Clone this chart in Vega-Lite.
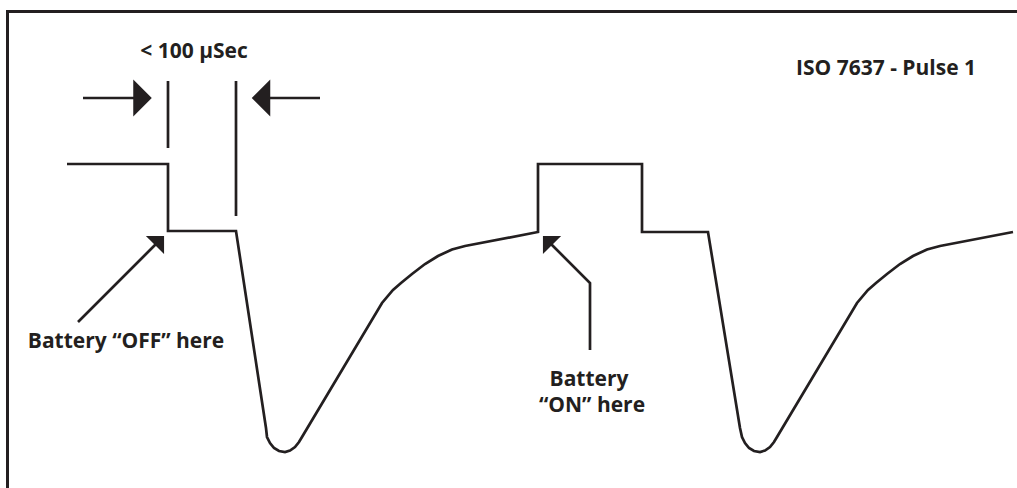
{
  "$schema": "https://vega.github.io/schema/vega-lite/v6.json",
  "width": 1017,
  "height": 488,
  "autosize": {"type": "none"},
  "padding": 0,
  "background": "white",
  "config": {"view": {"stroke": null}},
  "datasets": {
    "lines": [
      {"seg": "box", "i": 0, "x": 7.5, "y": 490},
      {"seg": "box", "i": 1, "x": 7.5, "y": 11.5},
      {"seg": "box", "i": 2, "x": 1020, "y": 11.5},
      {"seg": "wave", "i": 0, "x": 67, "y": 164},
      {"seg": "wave", "i": 1, "x": 168, "y": 164},
      {"seg": "wave", "i": 2, "x": 168, "y": 231},
      {"seg": "wave", "i": 3, "x": 236, "y": 231},
      {"seg": "wave", "i": 4, "x": 266, "y": 428},
      {"seg": "wave", "i": 5, "x": 267, "y": 437},
      {"seg": "wave", "i": 6, "x": 270, "y": 443},
      {"seg": "wave", "i": 7, "x": 274, "y": 448},
      {"seg": "wave", "i": 8, "x": 279, "y": 451},
      {"seg": "wave", "i": 9, "x": 285, "y": 452},
      {"seg": "wave", "i": 10, "x": 290, "y": 450.5},
      {"seg": "wave", "i": 11, "x": 295, "y": 447},
      {"seg": "wave", "i": 12, "x": 299, "y": 442},
      {"seg": "wave", "i": 13, "x": 302, "y": 437},
      {"seg": "wave", "i": 14, "x": 382, "y": 303},
      {"seg": "wave", "i": 15, "x": 393, "y": 290},
      {"seg": "wave", "i": 16, "x": 401, "y": 283},
      {"seg": "wave", "i": 17, "x": 412, "y": 274},
      {"seg": "wave", "i": 18, "x": 425, "y": 264},
      {"seg": "wave", "i": 19, "x": 438, "y": 256},
      {"seg": "wave", "i": 20, "x": 452, "y": 249.5},
      {"seg": "wave", "i": 21, "x": 465, "y": 246},
      {"seg": "wave", "i": 22, "x": 538, "y": 232},
      {"seg": "wave", "i": 23, "x": 538, "y": 164},
      {"seg": "wave", "i": 24, "x": 642, "y": 164},
      {"seg": "wave", "i": 25, "x": 642, "y": 232},
      {"seg": "wave", "i": 26, "x": 708, "y": 232},
      {"seg": "wave", "i": 27, "x": 740, "y": 428},
      {"seg": "wave", "i": 28, "x": 742, "y": 437},
      {"seg": "wave", "i": 29, "x": 745, "y": 443},
      {"seg": "wave", "i": 30, "x": 749, "y": 448},
      {"seg": "wave", "i": 31, "x": 754, "y": 451},
      {"seg": "wave", "i": 32, "x": 760, "y": 452},
      {"seg": "wave", "i": 33, "x": 765, "y": 450.5},
      {"seg": "wave", "i": 34, "x": 770, "y": 447},
      {"seg": "wave", "i": 35, "x": 774, "y": 442},
      {"seg": "wave", "i": 36, "x": 777, "y": 437},
      {"seg": "wave", "i": 37, "x": 857, "y": 303},
      {"seg": "wave", "i": 38, "x": 868, "y": 290},
      {"seg": "wave", "i": 39, "x": 876, "y": 283},
      {"seg": "wave", "i": 40, "x": 887, "y": 274},
      {"seg": "wave", "i": 41, "x": 900, "y": 264},
      {"seg": "wave", "i": 42, "x": 913, "y": 256},
      {"seg": "wave", "i": 43, "x": 927, "y": 249.5},
      {"seg": "wave", "i": 44, "x": 940, "y": 246},
      {"seg": "wave", "i": 45, "x": 1013, "y": 232},
      {"seg": "tick1", "i": 0, "x": 168, "y": 81},
      {"seg": "tick1", "i": 1, "x": 168, "y": 148},
      {"seg": "tick2", "i": 0, "x": 236, "y": 81},
      {"seg": "tick2", "i": 1, "x": 236, "y": 216},
      {"seg": "arrowL", "i": 0, "x": 83, "y": 98},
      {"seg": "arrowL", "i": 1, "x": 136, "y": 98},
      {"seg": "arrowR", "i": 0, "x": 267, "y": 98},
      {"seg": "arrowR", "i": 1, "x": 320, "y": 98},
      {"seg": "off", "i": 0, "x": 78, "y": 322},
      {"seg": "off", "i": 1, "x": 156, "y": 244},
      {"seg": "on", "i": 0, "x": 590, "y": 350},
      {"seg": "on", "i": 1, "x": 590, "y": 283},
      {"seg": "on", "i": 2, "x": 551, "y": 244}
    ],
    "heads": [
      {"dir": "right", "x": 142.5, "y": 98},
      {"dir": "left", "x": 261, "y": 98}
    ],
    "diag": [
      {"dir": "upright", "x": 159.5, "y": 240.5},
      {"dir": "upleft", "x": 547.5, "y": 240.5}
    ],
    "labels": [
      {"label": "< 100 µSec", "x": 194, "y": 58},
      {"label": "ISO 7637 - Pulse 1", "x": 886, "y": 75},
      {"label": "Battery “OFF” here", "x": 126, "y": 348},
      {"label": "Battery", "x": 589, "y": 386},
      {"label": "“ON” here", "x": 592, "y": 412}
    ]
  },
  "layer": [
    {
      "data": {"name": "lines"},
      "transform": [{"filter": "datum.seg === 'box'"}],
      "mark": {"type": "line", "color": "#231f20", "strokeWidth": 3, "strokeCap": "butt"},
      "encoding": {
        "x": {"field": "x", "type": "quantitative", "scale": {"domain": [0, 1017], "nice": false, "zero": false}, "axis": null},
        "y": {"field": "y", "type": "quantitative", "scale": {"domain": [0, 488], "nice": false, "zero": false, "reverse": true}, "axis": null},
        "detail": {"field": "seg"},
        "order": {"field": "i"}
      }
    },
    {
      "data": {"name": "lines"},
      "transform": [{"filter": "datum.seg !== 'box'"}],
      "mark": {"type": "line", "color": "#231f20", "strokeWidth": 2.7, "strokeJoin": "miter", "strokeCap": "butt"},
      "encoding": {
        "x": {"field": "x", "type": "quantitative", "scale": {"domain": [0, 1017], "nice": false, "zero": false}, "axis": null},
        "y": {"field": "y", "type": "quantitative", "scale": {"domain": [0, 488], "nice": false, "zero": false, "reverse": true}, "axis": null},
        "detail": {"field": "seg"},
        "order": {"field": "i"}
      }
    },
    {
      "data": {"name": "heads"},
      "transform": [{"filter": "datum.dir === 'right'"}],
      "mark": {"type": "point", "shape": "M -0.5 -1 L 0.5 0 L -0.5 1 Z", "size": 1369, "angle": 0, "filled": true, "color": "#231f20", "opacity": 1, "strokeWidth": 0},
      "encoding": {
        "x": {"field": "x", "type": "quantitative", "scale": {"domain": [0, 1017], "nice": false, "zero": false}, "axis": null},
        "y": {"field": "y", "type": "quantitative", "scale": {"domain": [0, 488], "nice": false, "zero": false, "reverse": true}, "axis": null}
      }
    },
    {
      "data": {"name": "heads"},
      "transform": [{"filter": "datum.dir === 'left'"}],
      "mark": {"type": "point", "shape": "M -0.5 -1 L 0.5 0 L -0.5 1 Z", "size": 1369, "angle": 180, "filled": true, "color": "#231f20", "opacity": 1, "strokeWidth": 0},
      "encoding": {
        "x": {"field": "x", "type": "quantitative", "scale": {"domain": [0, 1017], "nice": false, "zero": false}, "axis": null},
        "y": {"field": "y", "type": "quantitative", "scale": {"domain": [0, 488], "nice": false, "zero": false, "reverse": true}, "axis": null}
      }
    },
    {
      "data": {"name": "diag"},
      "transform": [{"filter": "datum.dir === 'upright'"}],
      "mark": {"type": "point", "shape": "M -0.5 -1 L 0.5 0 L -0.5 1 Z", "size": 660, "angle": 315, "filled": true, "color": "#231f20", "opacity": 1, "strokeWidth": 0},
      "encoding": {
        "x": {"field": "x", "type": "quantitative", "scale": {"domain": [0, 1017], "nice": false, "zero": false}, "axis": null},
        "y": {"field": "y", "type": "quantitative", "scale": {"domain": [0, 488], "nice": false, "zero": false, "reverse": true}, "axis": null}
      }
    },
    {
      "data": {"name": "diag"},
      "transform": [{"filter": "datum.dir === 'upleft'"}],
      "mark": {"type": "point", "shape": "M -0.5 -1 L 0.5 0 L -0.5 1 Z", "size": 660, "angle": 225, "filled": true, "color": "#231f20", "opacity": 1, "strokeWidth": 0},
      "encoding": {
        "x": {"field": "x", "type": "quantitative", "scale": {"domain": [0, 1017], "nice": false, "zero": false}, "axis": null},
        "y": {"field": "y", "type": "quantitative", "scale": {"domain": [0, 488], "nice": false, "zero": false, "reverse": true}, "axis": null}
      }
    },
    {
      "data": {"name": "labels"},
      "mark": {"type": "text", "font": "Open Sans", "fontWeight": "bold", "fontSize": 21, "color": "#231f20", "align": "center", "baseline": "alphabetic"},
      "encoding": {
        "x": {"field": "x", "type": "quantitative", "scale": {"domain": [0, 1017], "nice": false, "zero": false}, "axis": null},
        "y": {"field": "y", "type": "quantitative", "scale": {"domain": [0, 488], "nice": false, "zero": false, "reverse": true}, "axis": null},
        "text": {"field": "label"}
      }
    }
  ]
}
